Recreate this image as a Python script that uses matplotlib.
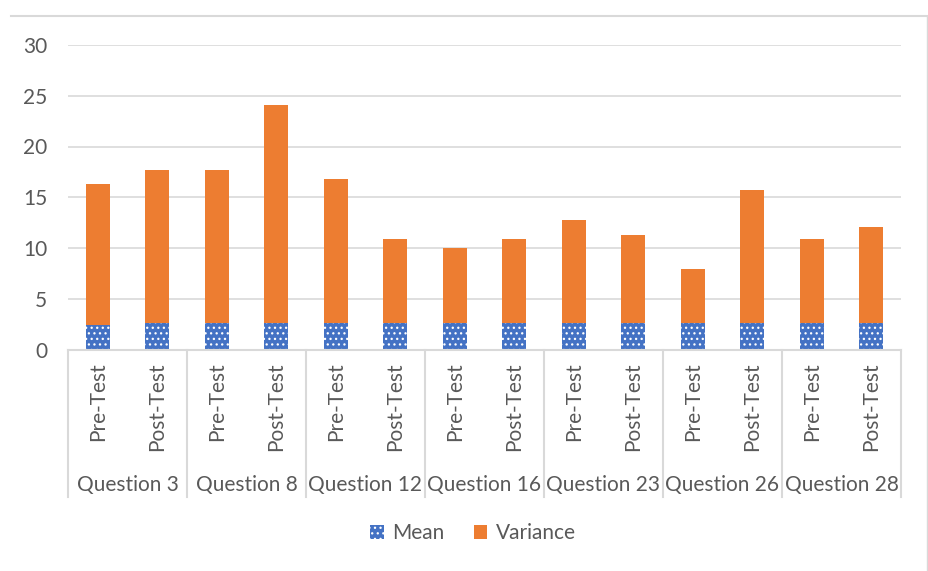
import matplotlib
matplotlib.use("Agg")
import matplotlib.pyplot as plt
from matplotlib.patches import Patch
from matplotlib.lines import Line2D
import numpy as np

questions = ["Question 3", "Question 8", "Question 12", "Question 16",
             "Question 23", "Question 26", "Question 28"]
tests = ["Pre-Test", "Post-Test"]
mean = [2.42, 2.58, 2.58, 2.58, 2.58, 2.58, 2.58,
        2.58, 2.58, 2.58, 2.58, 2.58, 2.58, 2.58]
variance = [13.90, 15.15, 15.15, 21.50, 14.26, 8.32, 7.42,
            8.32, 10.22, 8.68, 5.39, 13.12, 8.32, 9.47]

BLUE = "#4472C4"
ORANGE = "#ED7D31"
GRID = "#D9D9D9"
TXT = "#595959"
FS = 15

plt.rcParams["font.family"] = ["Lato", "DejaVu Sans"]
plt.rcParams["hatch.linewidth"] = 0.9

W, H = 929, 571
fig = plt.figure(figsize=(W / 100, H / 100), dpi=100)
ax = fig.add_axes([68 / W, 1 - 349.5 / H, (901 - 68) / W, (349.5 - 45) / H])

x = np.arange(len(mean))
ax.bar(x, mean, width=0.4, color=BLUE, edgecolor="white", linewidth=0,
       hatch="...", zorder=3)
ax.bar(x, variance, width=0.4, bottom=mean, color=ORANGE, linewidth=0,
       zorder=3)

ax.set_xlim(-0.5, len(mean) - 0.5)
ax.set_ylim(0, 30)
ax.set_yticks(range(0, 31, 5))
ax.yaxis.grid(True, color=GRID, linewidth=1.2, zorder=0)
ax.set_axisbelow(True)
for s in ax.spines.values():
    s.set_visible(False)
ax.tick_params(axis="y", length=0, pad=15, labelsize=FS, labelcolor=TXT)

# inner level: Pre/Post labels under each bar
ax.set_xticks(x)
ax.set_xticklabels(tests * len(questions), rotation=90)
ax.tick_params(axis="x", length=0, pad=9, labelsize=FS, labelcolor=TXT)

# axis baseline plus separators between question groups
axis_h = 349.5 - 45
trans = ax.get_xaxis_transform()
ax.plot([-0.5, len(mean) - 0.5], [0, 0], transform=trans, color=GRID,
        lw=1.5, clip_on=False, zorder=4)
for b in np.arange(-0.5, len(mean), 2):
    ax.plot([b, b], [0, -147 / axis_h], transform=trans, color=GRID,
            lw=1.5, clip_on=False)
for i, q in enumerate(questions):
    ax.text(2 * i + 0.5, -(485 - 349.5) / axis_h, q, transform=trans,
            ha="center", va="center", fontsize=FS, color=TXT)

handles = [Patch(facecolor=BLUE, edgecolor="white", hatch="...", linewidth=0),
           Patch(facecolor=ORANGE, linewidth=0)]
fig.legend(handles, ["Mean", "Variance"], loc="center",
           bbox_to_anchor=(473 / W, 1 - 533 / H), ncol=2, frameon=False,
           fontsize=FS, labelcolor=TXT, handlelength=0.65, handleheight=0.65,
           handletextpad=0.4, columnspacing=1.4)

# chart frame edges
fig.add_artist(Line2D([11 / W, 1], [1 - 15.5 / H, 1 - 15.5 / H],
                      color=GRID, lw=1.5))
fig.add_artist(Line2D([927.5 / W, 927.5 / W], [0, 1 - 15.5 / H],
                      color=GRID, lw=1.0))

fig.savefig("out.png", dpi=100)
